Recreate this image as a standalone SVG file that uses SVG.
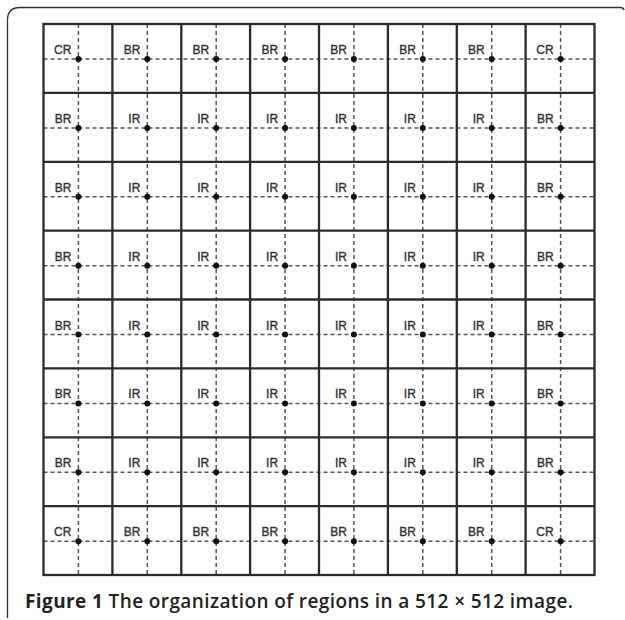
<svg xmlns="http://www.w3.org/2000/svg" width="625" height="620" viewBox="0 0 625 620">
<style>
.frame{fill:none;stroke:#333;stroke-width:1.3}
.grid{fill:none;stroke:#2b2b2b;stroke-width:2.3}
.dash{fill:none;stroke:#555;stroke-width:1.5;stroke-dasharray:4 3}
.lbl{font-family:"Liberation Sans",Arial,sans-serif;font-size:12px;fill:#333;stroke:#333;stroke-width:0.35;text-anchor:end}
.dot{fill:#111}
.cap{font-family:"Open Sans",sans-serif;font-size:19px;fill:#222;font-weight:600}
</style>
<rect width="625" height="620" fill="#fff"/>
<path class="frame" d="M7.5 618 V20 Q7.5 7.5 20 7.5 H620 Q623.5 7.5 624 10"/>
<g id="dashes">
<path class="dash" d="M78.4 24V575M147.3 24V575M216.2 24V575M285.1 24V575M353.9 24V575M422.8 24V575M491.7 24V575M560.6 24V575"/>
<path class="dash" d="M43.5 59H594.5M43.5 127.9H594.5M43.5 196.8H594.5M43.5 265.7H594.5M43.5 334.5H594.5M43.5 403.4H594.5M43.5 472.3H594.5M43.5 541.2H594.5"/>
</g>
<g id="grid">
<rect class="grid" x="43.5" y="24" width="551" height="551"/>
<path class="grid" d="M112.4 24V575M181.3 24V575M250.1 24V575M319 24V575M387.9 24V575M456.8 24V575M525.6 24V575M43.5 92.9H594.5M43.5 161.8H594.5M43.5 230.6H594.5M43.5 299.5H594.5M43.5 368.4H594.5M43.5 437.3H594.5M43.5 506.1H594.5"/>
</g>
<g id="points">
<g id="r0">
<circle class="dot" cx="78.4" cy="59" r="3"/><text class="lbl" x="71.4" y="54">CR</text>
<circle class="dot" cx="147.3" cy="59" r="3"/><text class="lbl" x="140.3" y="54">BR</text>
<circle class="dot" cx="216.2" cy="59" r="3"/><text class="lbl" x="209.2" y="54">BR</text>
<circle class="dot" cx="285.1" cy="59" r="3"/><text class="lbl" x="278.1" y="54">BR</text>
<circle class="dot" cx="353.9" cy="59" r="3"/><text class="lbl" x="346.9" y="54">BR</text>
<circle class="dot" cx="422.8" cy="59" r="3"/><text class="lbl" x="415.8" y="54">BR</text>
<circle class="dot" cx="491.7" cy="59" r="3"/><text class="lbl" x="484.7" y="54">BR</text>
<circle class="dot" cx="560.6" cy="59" r="3"/><text class="lbl" x="553.6" y="54">CR</text>
</g>
<g id="r1">
<circle class="dot" cx="78.4" cy="127.9" r="3"/><text class="lbl" x="71.4" y="122.9">BR</text>
<circle class="dot" cx="147.3" cy="127.9" r="3"/><text class="lbl" x="140.3" y="122.9">IR</text>
<circle class="dot" cx="216.2" cy="127.9" r="3"/><text class="lbl" x="209.2" y="122.9">IR</text>
<circle class="dot" cx="285.1" cy="127.9" r="3"/><text class="lbl" x="278.1" y="122.9">IR</text>
<circle class="dot" cx="353.9" cy="127.9" r="3"/><text class="lbl" x="346.9" y="122.9">IR</text>
<circle class="dot" cx="422.8" cy="127.9" r="3"/><text class="lbl" x="415.8" y="122.9">IR</text>
<circle class="dot" cx="491.7" cy="127.9" r="3"/><text class="lbl" x="484.7" y="122.9">IR</text>
<circle class="dot" cx="560.6" cy="127.9" r="3"/><text class="lbl" x="553.6" y="122.9">BR</text>
</g>
<g id="r2">
<circle class="dot" cx="78.4" cy="196.8" r="3"/><text class="lbl" x="71.4" y="191.8">BR</text>
<circle class="dot" cx="147.3" cy="196.8" r="3"/><text class="lbl" x="140.3" y="191.8">IR</text>
<circle class="dot" cx="216.2" cy="196.8" r="3"/><text class="lbl" x="209.2" y="191.8">IR</text>
<circle class="dot" cx="285.1" cy="196.8" r="3"/><text class="lbl" x="278.1" y="191.8">IR</text>
<circle class="dot" cx="353.9" cy="196.8" r="3"/><text class="lbl" x="346.9" y="191.8">IR</text>
<circle class="dot" cx="422.8" cy="196.8" r="3"/><text class="lbl" x="415.8" y="191.8">IR</text>
<circle class="dot" cx="491.7" cy="196.8" r="3"/><text class="lbl" x="484.7" y="191.8">IR</text>
<circle class="dot" cx="560.6" cy="196.8" r="3"/><text class="lbl" x="553.6" y="191.8">BR</text>
</g>
<g id="r3">
<circle class="dot" cx="78.4" cy="265.7" r="3"/><text class="lbl" x="71.4" y="260.7">BR</text>
<circle class="dot" cx="147.3" cy="265.7" r="3"/><text class="lbl" x="140.3" y="260.7">IR</text>
<circle class="dot" cx="216.2" cy="265.7" r="3"/><text class="lbl" x="209.2" y="260.7">IR</text>
<circle class="dot" cx="285.1" cy="265.7" r="3"/><text class="lbl" x="278.1" y="260.7">IR</text>
<circle class="dot" cx="353.9" cy="265.7" r="3"/><text class="lbl" x="346.9" y="260.7">IR</text>
<circle class="dot" cx="422.8" cy="265.7" r="3"/><text class="lbl" x="415.8" y="260.7">IR</text>
<circle class="dot" cx="491.7" cy="265.7" r="3"/><text class="lbl" x="484.7" y="260.7">IR</text>
<circle class="dot" cx="560.6" cy="265.7" r="3"/><text class="lbl" x="553.6" y="260.7">BR</text>
</g>
<g id="r4">
<circle class="dot" cx="78.4" cy="334.5" r="3"/><text class="lbl" x="71.4" y="329.5">BR</text>
<circle class="dot" cx="147.3" cy="334.5" r="3"/><text class="lbl" x="140.3" y="329.5">IR</text>
<circle class="dot" cx="216.2" cy="334.5" r="3"/><text class="lbl" x="209.2" y="329.5">IR</text>
<circle class="dot" cx="285.1" cy="334.5" r="3"/><text class="lbl" x="278.1" y="329.5">IR</text>
<circle class="dot" cx="353.9" cy="334.5" r="3"/><text class="lbl" x="346.9" y="329.5">IR</text>
<circle class="dot" cx="422.8" cy="334.5" r="3"/><text class="lbl" x="415.8" y="329.5">IR</text>
<circle class="dot" cx="491.7" cy="334.5" r="3"/><text class="lbl" x="484.7" y="329.5">IR</text>
<circle class="dot" cx="560.6" cy="334.5" r="3"/><text class="lbl" x="553.6" y="329.5">BR</text>
</g>
<g id="r5">
<circle class="dot" cx="78.4" cy="403.4" r="3"/><text class="lbl" x="71.4" y="398.4">BR</text>
<circle class="dot" cx="147.3" cy="403.4" r="3"/><text class="lbl" x="140.3" y="398.4">IR</text>
<circle class="dot" cx="216.2" cy="403.4" r="3"/><text class="lbl" x="209.2" y="398.4">IR</text>
<circle class="dot" cx="285.1" cy="403.4" r="3"/><text class="lbl" x="278.1" y="398.4">IR</text>
<circle class="dot" cx="353.9" cy="403.4" r="3"/><text class="lbl" x="346.9" y="398.4">IR</text>
<circle class="dot" cx="422.8" cy="403.4" r="3"/><text class="lbl" x="415.8" y="398.4">IR</text>
<circle class="dot" cx="491.7" cy="403.4" r="3"/><text class="lbl" x="484.7" y="398.4">IR</text>
<circle class="dot" cx="560.6" cy="403.4" r="3"/><text class="lbl" x="553.6" y="398.4">BR</text>
</g>
<g id="r6">
<circle class="dot" cx="78.4" cy="472.3" r="3"/><text class="lbl" x="71.4" y="467.3">BR</text>
<circle class="dot" cx="147.3" cy="472.3" r="3"/><text class="lbl" x="140.3" y="467.3">IR</text>
<circle class="dot" cx="216.2" cy="472.3" r="3"/><text class="lbl" x="209.2" y="467.3">IR</text>
<circle class="dot" cx="285.1" cy="472.3" r="3"/><text class="lbl" x="278.1" y="467.3">IR</text>
<circle class="dot" cx="353.9" cy="472.3" r="3"/><text class="lbl" x="346.9" y="467.3">IR</text>
<circle class="dot" cx="422.8" cy="472.3" r="3"/><text class="lbl" x="415.8" y="467.3">IR</text>
<circle class="dot" cx="491.7" cy="472.3" r="3"/><text class="lbl" x="484.7" y="467.3">IR</text>
<circle class="dot" cx="560.6" cy="472.3" r="3"/><text class="lbl" x="553.6" y="467.3">BR</text>
</g>
<g id="r7">
<circle class="dot" cx="78.4" cy="541.2" r="3"/><text class="lbl" x="71.4" y="536.2">CR</text>
<circle class="dot" cx="147.3" cy="541.2" r="3"/><text class="lbl" x="140.3" y="536.2">BR</text>
<circle class="dot" cx="216.2" cy="541.2" r="3"/><text class="lbl" x="209.2" y="536.2">BR</text>
<circle class="dot" cx="285.1" cy="541.2" r="3"/><text class="lbl" x="278.1" y="536.2">BR</text>
<circle class="dot" cx="353.9" cy="541.2" r="3"/><text class="lbl" x="346.9" y="536.2">BR</text>
<circle class="dot" cx="422.8" cy="541.2" r="3"/><text class="lbl" x="415.8" y="536.2">BR</text>
<circle class="dot" cx="491.7" cy="541.2" r="3"/><text class="lbl" x="484.7" y="536.2">BR</text>
<circle class="dot" cx="560.6" cy="541.2" r="3"/><text class="lbl" x="553.6" y="536.2">CR</text>
</g>
</g>
<text class="cap" x="25" y="608" textLength="548" lengthAdjust="spacing"><tspan font-weight="700">Figure 1</tspan> The organization of regions in a 512 × 512 image.</text>
</svg>
